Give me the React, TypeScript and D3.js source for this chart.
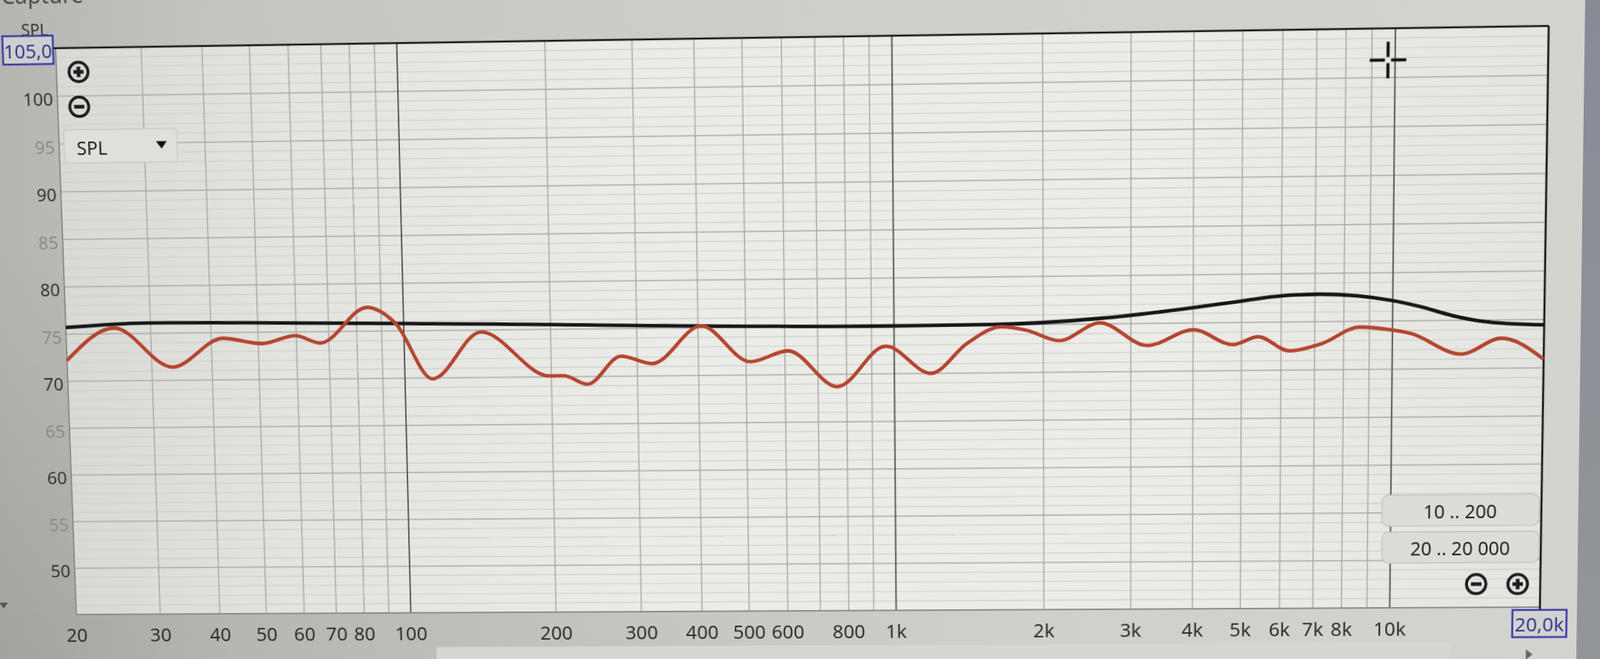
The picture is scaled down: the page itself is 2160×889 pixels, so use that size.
import React from 'react';
import * as d3 from 'd3';

// ---- data ----
const freqTicks = [20, 30, 40, 50, 60, 70, 80, 100, 200, 300, 400, 500, 600, 800, 1000, 2000, 3000, 4000, 5000, 6000, 7000, 8000, 10000];
const freqTickLabels = ['20', '30', '40', '50', '60', '70', '80', '100', '200', '300', '400', '500', '600', '800', '1k', '2k', '3k', '4k', '5k', '6k', '7k', '8k', '10k'];
const splTicks = [50, 55, 60, 65, 70, 75, 80, 85, 90, 95, 100];
const splDomain = [45, 105];
const freqDomain = [20, 20000];

const redFreq = [20, 25.2, 33.1, 42.3, 50.9, 59.7, 67.2, 84.2, 96.2, 114, 144, 198, 212, 237, 278, 322, 406, 510, 609, 766, 962, 1186, 1404, 1646, 1855, 2154, 2600, 3240, 4004, 4806, 5394, 6238, 7213, 8610, 9886, 10858, 13722, 16458, 20000];
const redSpl = [72.2, 75.6, 71.4, 74.4, 73.8, 74.6, 73.8, 77.5, 75.8, 69.9, 74.8, 70.1, 70.1, 69.2, 72.1, 71.3, 75.2, 71.4, 72.5, 68.7, 72.9, 70.0, 73.1, 74.8, 74.4, 73.3, 75.1, 72.7, 74.3, 72.7, 73.5, 72.0, 72.7, 74.4, 74.1, 73.7, 71.5, 73.1, 70.9];

const blackFreq = [20, 29.6, 117, 961, 1572, 2642, 3800, 4876, 5800, 7115, 8483, 9886, 11356, 13136, 15194, 20000];
const blackSpl = [75.7, 76.1, 75.7, 75.0, 75.05, 75.6, 76.45, 77.15, 77.65, 77.85, 77.65, 77.15, 76.45, 75.5, 74.85, 74.45];

// ---- geometry ----
const L = 89, R = 2085, T = 50, B = 824;
const localCorners = [[L, T], [R, T], [R, B], [L, B]];
const photoCorners = [[75, 65], [2091, 35], [2079, 819], [103, 829]];

function solveHomography(src: number[][], dst: number[][]): number[] {
  const A: number[][] = [];
  const b: number[] = [];
  for (let i = 0; i < 4; i++) {
    const [x, y] = src[i];
    const [X, Y] = dst[i];
    A.push([x, y, 1, 0, 0, 0, -x * X, -y * X]); b.push(X);
    A.push([0, 0, 0, x, y, 1, -x * Y, -y * Y]); b.push(Y);
  }
  const n = 8;
  for (let c = 0; c < n; c++) {
    let p = c;
    for (let r = c + 1; r < n; r++) if (Math.abs(A[r][c]) > Math.abs(A[p][c])) p = r;
    [A[c], A[p]] = [A[p], A[c]];
    [b[c], b[p]] = [b[p], b[c]];
    for (let r = 0; r < n; r++) {
      if (r === c) continue;
      const f = A[r][c] / A[c][c];
      for (let k = c; k < n; k++) A[r][k] -= f * A[c][k];
      b[r] -= f * b[c];
    }
  }
  return b.map((v, i) => v / A[i][i]);
}

const H = solveHomography(localCorners, photoCorners);
const Hi = solveHomography(photoCorners, localCorners);
const P = (px: number, py: number): [number, number] => {
  const w = Hi[6] * px + Hi[7] * py + 1;
  return [(Hi[0] * px + Hi[1] * py + Hi[2]) / w, (Hi[3] * px + Hi[4] * py + Hi[5]) / w];
};
const m3d = `matrix3d(${H[0]},${H[3]},0,${H[6]},${H[1]},${H[4]},0,${H[7]},0,0,1,0,${H[2]},${H[5]},0,1)`;

const FONT = '"Noto Sans", "Open Sans", sans-serif';

function ZoomIcon({ cx, cy, plus }: { cx: number; cy: number; plus: boolean }) {
  return (
    <g>
      <circle cx={cx} cy={cy} r={13} fill="none" stroke="#1e1e1e" strokeWidth={4} />
      <line x1={cx - 7} x2={cx + 7} y1={cy} y2={cy} stroke="#1e1e1e" strokeWidth={5} />
      {plus && <line x1={cx} x2={cx} y1={cy - 7} y2={cy + 7} stroke="#1e1e1e" strokeWidth={5} />}
    </g>
  );
}

export default function App() {
  const x = d3.scaleLog().domain(freqDomain).range([L, R]);
  const y = d3.scaleLinear().domain(splDomain).range([B, T]);

  const line = d3.line<[number, number]>()
    .x(d => x(d[0]))
    .y(d => y(d[1]))
    .curve(d3.curveMonotoneX);

  const redPath = line(redFreq.map((f, i) => [f, redSpl[i]]))!;
  const blackPath = line(blackFreq.map((f, i) => [f, blackSpl[i]]))!;

  const vGrid: { f: number; major: boolean }[] = [];
  [10, 100, 1000, 10000].forEach(d => {
    for (let m = 1; m <= 9; m++) {
      const f = m * d;
      if (f > 20 && f < 20000) vGrid.push({ f, major: m === 1 });
    }
  });
  const hGrid = d3.range(splDomain[0] + 1, splDomain[1]);

  const cap = P(2, 6);
  const spl = P(47, 48);
  const box105 = P(3, 49);
  const plusTL = P(106, 97);
  const minusTL = P(107, 144);
  const dd = P(86, 175);
  const cross = P(1874, 81);
  const btn1 = P(1866, 668);
  const btn2 = P(1866, 718);
  const minusBR = P(1993, 788);
  const plusBR = P(2049, 788);
  const box20k = P(2042, 823);
  const triL = P(5, 817);
  const triR = P(2063, 883);
  const thumb = P(589, 873);

  return (
    <div style={{
      position: 'fixed', left: 0, top: 0, width: 2160, height: 889, overflow: 'hidden',
      background: 'radial-gradient(ellipse at 0% 100%, rgba(0,0,0,0.10), rgba(0,0,0,0) 45%), linear-gradient(90deg, #b5b5b1 0%, #c5c5c1 15%, #cecec9 45%, #d3d3cf 100%)'
    }}>
      <svg width={2160} height={889} style={{ position: 'absolute', left: 0, top: 0, overflow: 'visible', transformOrigin: '0 0', transform: m3d }}>
        <defs>
          <linearGradient id="plotBg" x1="0" x2="1" y1="0" y2="0">
            <stop offset="0%" stopColor="#d9d9d5" />
            <stop offset="15%" stopColor="#e3e3df" />
            <stop offset="40%" stopColor="#ebebe7" />
            <stop offset="75%" stopColor="#ecece8" />
            <stop offset="100%" stopColor="#e4e4e0" />
          </linearGradient>
        </defs>

        <rect x={thumb[0]} y={thumb[1]} width={1378} height={30} fill="#d6d6d2" />

        <text x={cap[0]} y={cap[1]} fontFamily={FONT} fontSize={30} fill="#4a4a4a">Capture</text>

        <rect x={L} y={T} width={R - L} height={B - T} fill="url(#plotBg)" />

        {hGrid.map(v => (
          <line key={'h' + v} x1={L} x2={R} y1={y(v)} y2={y(v)}
            stroke={v % 5 === 0 ? '#a9a9a5' : '#cdcdc9'} strokeWidth={v % 5 === 0 ? 1.6 : 1.1} />
        ))}
        {vGrid.map(g => (
          <line key={'v' + g.f} x1={x(g.f)} x2={x(g.f)} y1={T} y2={B}
            stroke={g.major ? '#4c4c4a' : '#a8a8a4'} strokeWidth={g.major ? 1.8 : 1.5} />
        ))}

        <line x1={L} x2={L} y1={T} y2={B} stroke="#8c8c88" strokeWidth={2} />
        <line x1={L} x2={R} y1={B} y2={B} stroke="#8c8c88" strokeWidth={2} />
        <line x1={box105[0] + 69} x2={R} y1={T} y2={T} stroke="#141414" strokeWidth={2.6} />
        <line x1={R} x2={R} y1={T} y2={B + 4} stroke="#141414" strokeWidth={2.6} />

        <path d={blackPath} fill="none" stroke="#161616" strokeWidth={4.8} strokeLinejoin="round" />
        <path d={redPath} fill="none" stroke="#b4452f" strokeWidth={4.8} strokeLinejoin="round" />

        {splTicks.map(v => (
          <text key={'yl' + v} x={L - 6} y={y(v) + 3} textAnchor="end" dominantBaseline="central"
            fontFamily={FONT} fontSize={24} fill={v % 10 === 0 ? '#333333' : '#8a8a88'}>{v}</text>
        ))}
        {freqTicks.map((f, i) => (
          <text key={'xl' + f} x={x(f)} y={B + 28} textAnchor="middle" dominantBaseline="central"
            fontFamily={FONT} fontSize={26} fill="#2e2e2e">{freqTickLabels[i]}</text>
        ))}

        <text x={spl[0]} y={spl[1]} textAnchor="middle" fontFamily={FONT} fontSize={22} fill="#333">SPL</text>
        <rect x={box105[0]} y={box105[1]} width={69} height={38} fill="#cfcfcf" stroke="#3a3aa6" strokeWidth={2.5} />
        <text x={box105[0] + 34.5} y={box105[1] + 20} textAnchor="middle" dominantBaseline="central"
          fontFamily={FONT} fontSize={26} fill="#2d3b8c">105,0</text>

        <ZoomIcon cx={plusTL[0]} cy={plusTL[1]} plus={true} />
        <ZoomIcon cx={minusTL[0]} cy={minusTL[1]} plus={false} />

        <rect x={dd[0]} y={dd[1]} width={155} height={45} rx={4} fill="#dfdfdb" stroke="#cacac6" strokeWidth={1.5} />
        <text x={dd[0] + 17} y={dd[1] + 24} dominantBaseline="central" fontFamily={FONT} fontSize={25} fill="#222">SPL</text>
        <path d={`M${dd[0] + 126},${dd[1] + 17} l15,0 l-7.5,10 z`} fill="#111" />

        <g fill="#111">
          <rect x={cross[0] - 2} y={cross[1] - 24} width={4} height={20} />
          <rect x={cross[0] - 2} y={cross[1] + 4} width={4} height={20} />
          <rect x={cross[0] - 24} y={cross[1] - 2} width={20} height={4} />
          <rect x={cross[0] + 4} y={cross[1] - 2} width={20} height={4} />
        </g>

        <rect x={btn1[0]} y={btn1[1]} width={209} height={42} rx={9} fill="#dcdcd8" stroke="#c4c4c0" strokeWidth={1.5} />
        <text x={btn1[0] + 104} y={btn1[1] + 22} textAnchor="middle" dominantBaseline="central" fontFamily={FONT} fontSize={25} fill="#222">10 .. 200</text>
        <rect x={btn2[0]} y={btn2[1]} width={209} height={42} rx={9} fill="#dcdcd8" stroke="#c4c4c0" strokeWidth={1.5} />
        <text x={btn2[0] + 104} y={btn2[1] + 22} textAnchor="middle" dominantBaseline="central" fontFamily={FONT} fontSize={25} fill="#222">20 .. 20 000</text>

        <ZoomIcon cx={minusBR[0]} cy={minusBR[1]} plus={false} />
        <ZoomIcon cx={plusBR[0]} cy={plusBR[1]} plus={true} />

        <rect x={box20k[0]} y={box20k[1]} width={72} height={37} fill="#d2d2d0" stroke="#3a3aa6" strokeWidth={2.5} />
        <text x={box20k[0] + 36} y={box20k[1] + 19} textAnchor="middle" dominantBaseline="central"
          fontFamily={FONT} fontSize={26} fill="#2d3b8c">20,0k</text>

        <path d={`M${triL[0] - 6},${triL[1] - 4} l12,0 l-6,8 z`} fill="#555" />
        <path d={`M${triR[0] - 3},${triR[1] - 7} l0,14 l9,-7 z`} fill="#666" />
      </svg>
      <div style={{ position: 'absolute', left: 2120, top: 0, width: 40, height: 889, background: 'linear-gradient(180deg, #878b96, #939699)', clipPath: 'polygon(20px 0, 40px 0, 40px 889px, 8px 889px)' }} />
    </div>
  );
}
